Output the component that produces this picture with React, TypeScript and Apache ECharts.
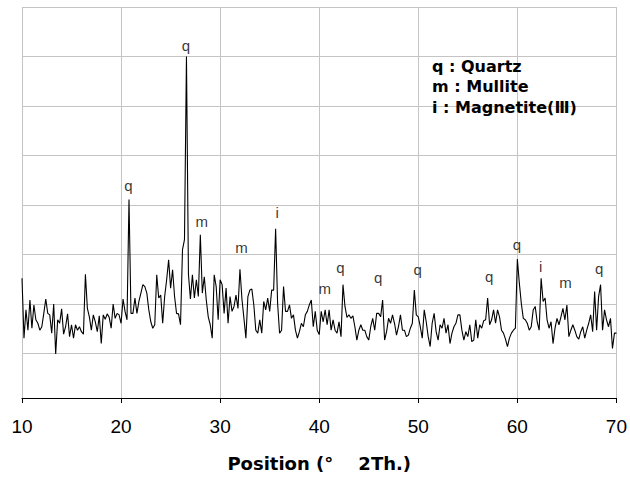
import React, { useEffect, useRef } from "react";
import * as echarts from "echarts";

// XRD scan: 2θ from 10° to 70°, step 0.2°
const scanStart = 10;
const scanStep = 0.2;
const intensity: number[] = [
  242, 121, 178, 137, 198, 141, 188, 158, 151, 137,
  144, 171, 200, 171, 168, 131, 190, 89, 158, 151,
  180, 129, 144, 170, 124, 148, 121, 148, 137, 144,
  134, 129, 250, 181, 164, 137, 168, 154, 134, 166,
  110, 168, 159, 170, 163, 141, 190, 161, 171, 168,
  151, 200, 175, 158, 401, 171, 171, 202, 171, 195,
  212, 229, 225, 212, 178, 154, 141, 148, 249, 202,
  208, 151, 205, 239, 279, 222, 259, 205, 171, 170,
  148, 300, 320, 690, 250, 200, 249, 202, 239, 205,
  330, 212, 245, 198, 164, 148, 121, 249, 225, 158,
  239, 229, 171, 222, 151, 205, 175, 185, 208, 181,
  260, 200, 161, 121, 205, 218, 220, 188, 137, 131,
  158, 131, 195, 178, 202, 175, 218, 218, 342, 191,
  131, 137, 225, 175, 175, 188, 161, 168, 137, 121,
  134, 151, 144, 168, 175, 188, 198, 144, 175, 137,
  128, 175, 154, 178, 148, 178, 137, 158, 137, 131,
  154, 124, 229, 185, 163, 168, 161, 166, 144, 117,
  137, 148, 137, 137, 124, 117, 144, 161, 137, 171,
  171, 164, 198, 117, 134, 161, 151, 168, 151, 127,
  144, 168, 137, 137, 124, 127, 141, 151, 218, 168,
  164, 144, 121, 178, 154, 124, 104, 151, 171, 134,
  117, 148, 141, 161, 131, 148, 110, 131, 144, 151,
  168, 168, 137, 117, 134, 124, 148, 114, 117, 158,
  121, 148, 141, 156, 158, 202, 148, 158, 178, 151,
  178, 164, 137, 131, 119, 104, 121, 131, 137, 141,
  281, 232, 191, 161, 158, 151, 137, 144, 178, 185,
  154, 137, 242, 195, 202, 158, 141, 154, 110, 141,
  161, 148, 164, 181, 158, 188, 124, 137, 148, 137,
  124, 119, 134, 144, 121, 137, 151, 168, 134, 215,
  137, 205, 229, 137, 178, 158, 144, 161, 100, 131,
  131,
];

// Phase labels above the peaks
const peakLabelAngles = [20.8, 26.6, 28.2, 32.2, 35.8, 40.6, 42.2, 46.0, 50.0, 57.2, 60.0, 62.4, 64.9, 68.3];
const peakLabelHeights = [429, 712, 356, 304, 374, 221, 263, 243, 259, 245, 310, 265, 233, 261];
const peakLabelTexts = ["q", "q", "m", "m", "i", "m", "q", "q", "q", "q", "q", "i", "m", "q"];

const legendLines = ["q : Quartz", "m : Mullite", "i : Magnetite(Ⅲ)"];

const xTicks = { min: 10, max: 70, interval: 10 };
const yRange = { min: 0, max: 790, gridInterval: 100 };

const FONT = '"Liberation Sans", Arial, Helvetica, sans-serif';
const BOLD_FONT = '"DejaVu Sans", "Liberation Sans", Arial, sans-serif';

export default function App() {
  const ref = useRef<HTMLDivElement>(null);

  useEffect(() => {
    if (!ref.current) return;
    const chart = echarts.init(ref.current, undefined, { renderer: "svg" });

    const lineData = intensity.map((v, i) => [
      Math.round((scanStart + i * scanStep) * 10) / 10,
      v,
    ]);
    const labelData = peakLabelAngles.map((a, i) => ({
      value: [a, peakLabelHeights[i]],
      name: peakLabelTexts[i],
    }));

    chart.setOption({
      animation: false,
      backgroundColor: "#ffffff",
      textStyle: { fontFamily: FONT },
      grid: { left: 22, right: 10, top: 7, bottom: 81, containLabel: false },
      xAxis: {
        type: "value",
        min: xTicks.min,
        max: xTicks.max,
        interval: xTicks.interval,
        name: "Position (°    2Th.)",
        nameLocation: "middle",
        nameGap: 56,
        nameTextStyle: { fontSize: 18, fontWeight: "bold", color: "#000", fontFamily: BOLD_FONT },
        axisLine: { show: true, lineStyle: { color: "#000", width: 1 } },
        axisTick: { show: true, length: 5, lineStyle: { color: "#000" } },
        axisLabel: { fontSize: 19, color: "#000", margin: 19, fontFamily: FONT },
        splitLine: { show: true, lineStyle: { color: "#c4c4c4", width: 1 } },
      },
      yAxis: [
        {
          type: "value",
          min: yRange.min,
          max: yRange.max,
          show: false,
          splitLine: { show: false },
        },
        {
          type: "value",
          inverse: true,
          min: yRange.min,
          max: yRange.max,
          interval: yRange.gridInterval,
          position: "left",
          axisLine: { show: false },
          axisTick: { show: false },
          axisLabel: { show: false },
          splitLine: { show: true, lineStyle: { color: "#c4c4c4", width: 1 } },
        },
      ],
      series: [
        {
          type: "line",
          data: lineData,
          yAxisIndex: 0,
          showSymbol: false,
          symbol: "none",
          lineStyle: { color: "#000", width: 1.1 },
          z: 3,
        },
        {
          type: "scatter",
          data: labelData,
          yAxisIndex: 0,
          symbol: "circle",
          symbolSize: 1,
          itemStyle: { color: "rgba(0,0,0,0)" },
          label: {
            show: true,
            position: [0, 0],
            align: "center",
            verticalAlign: "middle",
            formatter: "{b}",
            fontSize: 15,
            color: "#000",
            textBorderWidth: 0,
            fontFamily: FONT,
          },
          emphasis: { disabled: true },
          silent: true,
          z: 4,
        },
      ],
      graphic: legendLines.map((t, i) => ({
        type: "text",
        left: 432,
        top: 58 + i * 20.7,
        z: 100,
        style: {
          text: t,
          fontSize: 16,
          fontWeight: "bold",
          fill: "#000",
          fontFamily: BOLD_FONT,
        },
      })),
    });

    return () => chart.dispose();
  }, []);

  return (
    <div
      ref={ref}
      style={{ position: "fixed", left: 0, top: 0, width: 630, height: 479, background: "#fff" }}
    />
  );
}
